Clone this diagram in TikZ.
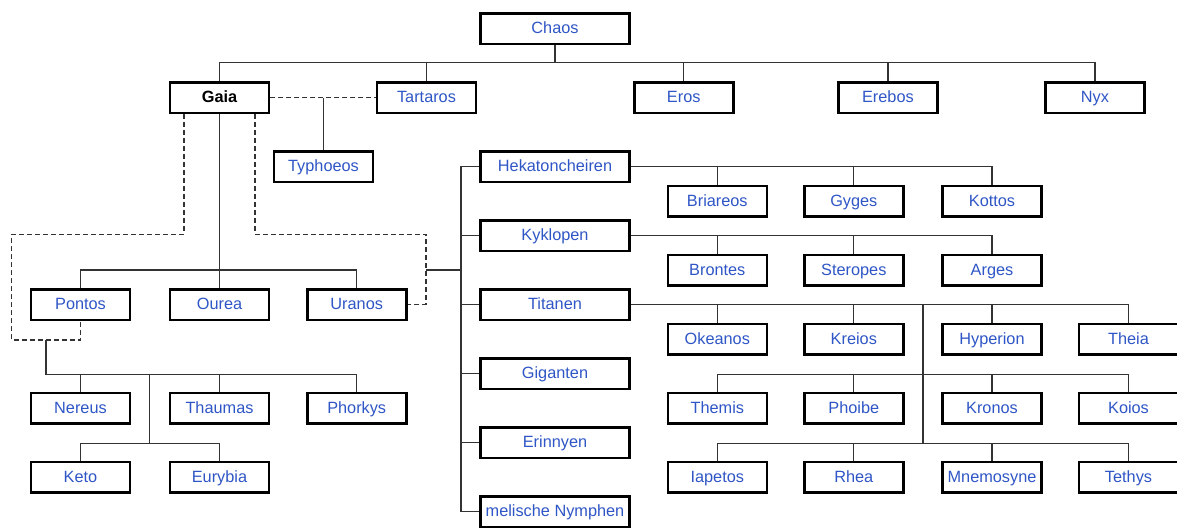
\documentclass[tikz,border=0pt]{standalone}
\usepackage{fontspec}
\setmainfont{Liberation Sans}
\usepackage{xcolor}
\usetikzlibrary{calc, positioning}
\definecolor{ink}{HTML}{2F56C6}
\definecolor{wire}{HTML}{333333}

\begin{document}
\begin{tikzpicture}[x=1pt, y=-1pt, font=\fontsize{16.3}{18}\selectfont,
    god/.style={draw=black, line width=2.6pt, fill=white, text=ink,
                minimum width=99pt, minimum height=30.5pt, inner sep=0pt,
                text height=12pt, text depth=2pt},
    wide/.style={god, minimum width=149pt},
    link/.style={draw=wire, line width=1.2pt},
    tie/.style={link, dash pattern=on 5pt off 3pt}]
    \useasboundingbox[fill=white] (0,0) rectangle (1177,528);

    \node[wide] (chaos) at (555,28.8) {Chaos};
    \node[god, text=black, font=\fontsize{16.3}{18}\selectfont\bfseries] (gaia) at (219.5,97.8) {Gaia};
    \node[god] (tartaros) at (426.5,97.8) {Tartaros};
    \node[god] (eros) at (683.7,97.8) {Eros};
    \node[god] (erebos) at (887.9,97.8) {Erebos};
    \node[god] (nyx) at (1094.9,97.8) {Nyx};
    \node[god] (typhoeos) at (323.5,166.8) {Typhoeos};

    \node[god] (pontos) at (80.5,304.8) {Pontos};
    \node[god] (ourea) at (219.5,304.8) {Ourea};
    \node[god] (uranos) at (356.7,304.8) {Uranos};
    \node[god] (nereus) at (80.5,408.3) {Nereus};
    \node[god] (thaumas) at (219.5,408.3) {Thaumas};
    \node[god] (phorkys) at (356.7,408.3) {Phorkys};
    \node[god] (keto) at (80.5,477.3) {Keto};
    \node[god] (eurybia) at (219.5,477.3) {Eurybia};

    \node[wide] (hekat) at (555,166.8) {Hekatoncheiren};
    \node[wide] (kyklopen) at (555,235.8) {Kyklopen};
    \node[wide] (titanen) at (555,304.8) {Titanen};
    \node[wide] (giganten) at (555,373.8) {Giganten};
    \node[wide] (erinnyen) at (555,442.8) {Erinnyen};
    \node[wide] (nymphs) at (555,511.8) {melische Nymphen};

    \node[god] (briareos) at (717.3,201.3) {Briareos};
    \node[god] (gyges) at (853.8,201.3) {Gyges};
    \node[god] (kottos) at (992,201.3) {Kottos};
    \node[god] (brontes) at (717.3,270.3) {Brontes};
    \node[god] (steropes) at (853.8,270.3) {Steropes};
    \node[god] (arges) at (992,270.3) {Arges};
    \node[god] (okeanos) at (717.3,339.3) {Okeanos};
    \node[god] (kreios) at (853.8,339.3) {Kreios};
    \node[god] (hyperion) at (992,339.3) {Hyperion};
    \node[god] (theia) at (1128.5,339.3) {Theia};
    \node[god] (themis) at (717.3,408.3) {Themis};
    \node[god] (phoibe) at (853.8,408.3) {Phoibe};
    \node[god] (kronos) at (992,408.3) {Kronos};
    \node[god] (koios) at (1128.5,408.3) {Koios};
    \node[god] (iapetos) at (717.3,477.3) {Iapetos};
    \node[god] (rhea) at (853.8,477.3) {Rhea};
    \node[god] (mnemosyne) at (992,477.3) {Mnemosyne};
    \node[god] (tethys) at (1128.5,477.3) {Tethys};

    \coordinate (top) at (555,62.7);
    \draw[link] (chaos.south) -- (top);
    \foreach \n in {gaia,tartaros,eros,erebos,nyx}
      \draw[link] (top) -| (\n.north);
    \draw[tie] (gaia.east) -- (tartaros.west);
    \draw[link] (typhoeos.north) -- (typhoeos.north |- gaia.east);

    \coordinate (gbus) at (219.5,270);
    \draw[link] (gaia.south) -- (ourea.north);
    \draw[link] (pontos.north) |- (gbus) -| (uranos.north);

    \coordinate (sea) at (46,340);
    \draw[tie] ([xshift=-35.5pt]gaia.south) |- (11.7,234.3) |- (sea) -| (pontos.south);
    \coordinate (seabus) at (46,374.3);
    \draw[link] (sea) -- (seabus) -| (phorkys.north);
    \draw[link] (nereus.north) -- (nereus.north |- seabus);
    \draw[link] (thaumas.north) -- (thaumas.north |- seabus);
    \coordinate (ketobus) at (149.7,443.7);
    \draw[link] (ketobus |- seabus) -- (ketobus);
    \draw[link] (keto.north) |- (ketobus) -| (eurybia.north);

    \coordinate (sky) at (426,270);
    \coordinate (kids) at (461,270);
    \draw[tie] ([xshift=35.5pt]gaia.south) |- (426,234.3) |- (uranos.east);
    \draw[link] (sky) -- (kids);
    \draw[link] (hekat.west) -| (kids) |- (nymphs.west);
    \foreach \n in {kyklopen,titanen,giganten,erinnyen}
      \draw[link] (\n.west) -- (\n.west -| kids);

    \draw[link] (hekat.east) -| (kottos.north);
    \foreach \n in {briareos,gyges}
      \draw[link] (\n.north) -- (\n.north |- hekat.east);
    \draw[link] (kyklopen.east) -| (arges.north);
    \foreach \n in {brontes,steropes}
      \draw[link] (\n.north) -- (\n.north |- kyklopen.east);
    \draw[link] (titanen.east) -| (theia.north);
    \foreach \n in {okeanos,kreios,hyperion}
      \draw[link] (\n.north) -- (\n.north |- titanen.east);

    \coordinate (tbus) at (922.9,374.3);
    \coordinate (tbus2) at (922.9,443.3);
    \draw[link] (tbus |- titanen.east) -- (tbus2);
    \draw[link] (themis.north) |- (tbus) -| (koios.north);
    \foreach \n in {phoibe,kronos}
      \draw[link] (\n.north) -- (\n.north |- tbus);
    \draw[link] (iapetos.north) |- (tbus2) -| (tethys.north);
    \foreach \n in {rhea,mnemosyne}
      \draw[link] (\n.north) -- (\n.north |- tbus2);
  \end{tikzpicture}
\end{document}
